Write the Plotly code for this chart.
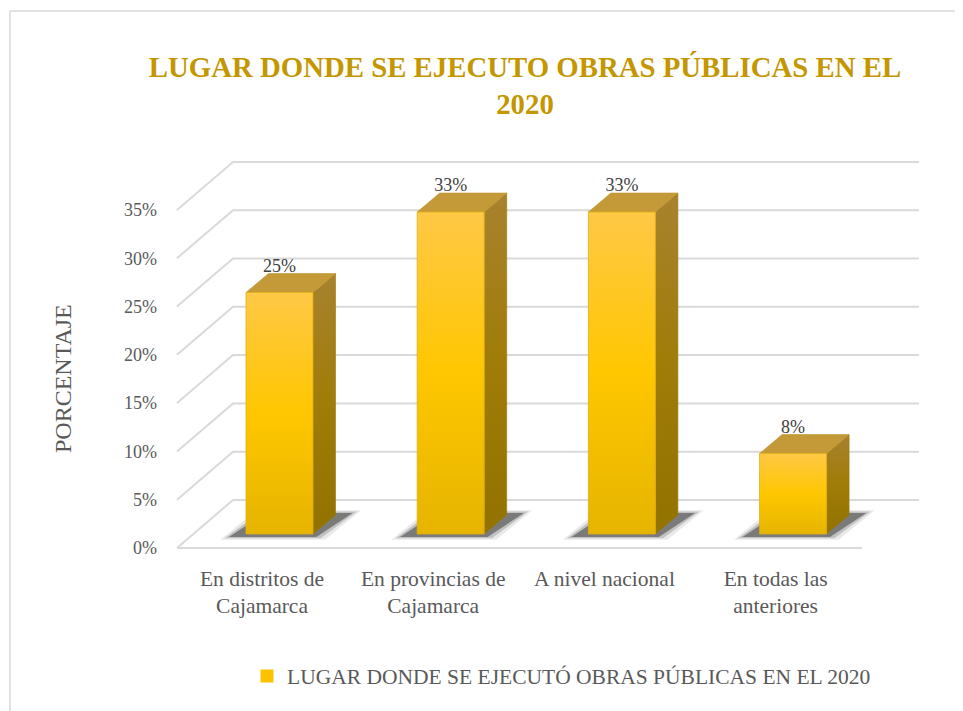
import plotly.graph_objects as go

# ---------------- data ----------------
categories = ["En distritos de<br>Cajamarca", "En provincias de<br>Cajamarca",
              "A nivel nacional", "En todas las<br>anteriores"]
values = [25.0, 33.33, 33.33, 8.33]
tick_values = [0, 5, 10, 15, 20, 25, 30, 35]
tick_labels = ["0%", "5%", "10%", "15%", "20%", "25%", "30%", "35%"]
series_name = "LUGAR DONDE SE EJECUTÓ OBRAS PÚBLICAS EN EL 2020"
title_text = "LUGAR DONDE SE EJECUTO OBRAS PÚBLICAS EN EL<br>2020"

# ---------------- layout geometry (page pixels) ----------------
PAGE_W, PAGE_H, BODY = 963, 711, 8
W, H = PAGE_W - BODY, PAGE_H - BODY
PL, PR, PT, PB = 163, 923, 150, 563          # plot area in page pixels
ML, MR, MT, MB = PL - BODY, PAGE_W - PR, PT - BODY, PAGE_H - PB
XC0, XSTEP = 279.5, 171.2      # page pixel of category 0 centre, pixels per category
Y0, PXPCT = 534.0, 9.66        # page pixel of 0% on bar plane, pixels per percent

def px2x(px):
    return (px - XC0) / XSTEP

def py2y(py):
    return (Y0 - py) / PXPCT

def ppx(px):
    return (px - PL) / (PR - PL)

def ppy(py):
    return (PB - py) / (PB - PT)

FRONT_OFF = (548 - Y0) / PXPCT
BACK_OFF = (Y0 - 500) / PXPCT
XFL, XBL, XBR, XFR = px2x(177), px2x(233), px2x(919), px2x(862)
HALF = 33.5 / XSTEP
DX = 22.5 / XSTEP
DY = 19.0 / PXPCT

FONT = "Liberation Serif"

fig = go.Figure()

# grid (back wall + side wall + floor front edge)
gx, gy = [], []
for t in tick_values:
    gx += [XFL, XBL, XBR, None]
    gy += [t - FRONT_OFF, t + BACK_OFF, t + BACK_OFF, None]
gx += [XFL, XFR, None]
gy += [-FRONT_OFF, -FRONT_OFF, None]
fig.add_trace(go.Scatter(x=gx, y=gy, mode="lines", line=dict(color="#D9D9D9", width=2),
                         hoverinfo="skip", showlegend=False))

# shadows
for i, v in enumerate(values):
    x0, x1 = i - HALF, i + HALF
    for grow, col in [(0.05, "rgba(110,110,110,0.15)"), (0.025, "rgba(80,80,80,0.25)"), (0.0, "rgba(50,50,50,0.5)")]:
        sx = [x0 - 0.10 - grow, x1 + 0.02 + grow, x1 + DX + 0.10 + grow, x0 + DX - 0.02 - grow, x0 - 0.10 - grow]
        sy = [-0.3 - grow * 6, -0.3 - grow * 6, DY + 0.2 + grow * 6, DY + 0.2 + grow * 6, -0.3 - grow * 6]
        fig.add_trace(go.Scatter(x=sx, y=sy, mode="lines", fill="toself", fillcolor=col,
                                 line=dict(width=0, color=col), hoverinfo="skip", showlegend=False))

# bars
for i, v in enumerate(values):
    x0, x1 = i - HALF, i + HALF
    # side
    fig.add_trace(go.Scatter(
        x=[x1, x1 + DX, x1 + DX, x1, x1], y=[0, DY, v + DY, v, 0],
        mode="lines", fill="toself", line=dict(width=0.6, color="#9A7800"),
        fillgradient=dict(type="vertical", colorscale=[[0, "#927200"], [0.5, "#A07C08"], [1, "#A8822E"]]),
        hoverinfo="skip", showlegend=False))
    # top
    fig.add_trace(go.Scatter(
        x=[x0, x1, x1 + DX, x0 + DX, x0], y=[v, v, v + DY, v + DY, v],
        mode="lines", fill="toself", fillcolor="#C49A38", line=dict(width=0.6, color="#C09530"),
        hoverinfo="skip", showlegend=False))
    # front
    fig.add_trace(go.Scatter(
        x=[x0, x1, x1, x0, x0], y=[0, 0, v, v, 0],
        mode="lines", fill="toself", line=dict(width=0.8, color="#E0AE10"),
        fillgradient=dict(type="vertical", colorscale=[[0, "#E6B400"], [0.5, "#FFC700"], [1, "#FFC846"]]),
        hoverinfo="skip", showlegend=False))

# data labels
fig.add_trace(go.Scatter(
    x=list(range(len(values))), y=[v + 2.6 for v in values], mode="text",
    text=[f"{round(v)}%" for v in values], textposition="middle center",
    textfont=dict(family=FONT, size=18, color="#404040"), hoverinfo="skip", showlegend=False))

# legend entry
fig.add_trace(go.Scatter(x=[None], y=[None], mode="markers", name=series_name,
                         marker=dict(symbol="square", size=13, color="#FFC200"), showlegend=True))

fig.update_layout(
    width=W, height=H, autosize=False,
    margin=dict(l=ML, r=MR, t=MT, b=MB, pad=0),
    paper_bgcolor="white", plot_bgcolor="rgba(0,0,0,0)",
    title=dict(text=title_text, x=(525 - BODY) / W, xanchor="center", xref="container",
               y=1 - 69 / H, yanchor="top", yref="container",
               font=dict(family=FONT, size=28.8, color="#C49600", weight="bold")),
    xaxis=dict(range=[px2x(PL), px2x(PR)], showgrid=False, zeroline=False, showline=False,
               tickmode="array", tickvals=[i - 17.5 / XSTEP for i in range(len(categories))],
               ticktext=categories, ticks="", tickfont=dict(family=FONT, size=21.5, color="#595959"),
               fixedrange=True),
    yaxis=dict(range=[py2y(PB), py2y(PT)], showgrid=False, zeroline=False, showline=False,
               tickmode="array", tickvals=[t - FRONT_OFF for t in tick_values], ticktext=tick_labels,
               ticks="", ticklabelstandoff=5, tickfont=dict(family=FONT, size=18, color="#595959"),
               fixedrange=True),
    showlegend=True,
    legend=dict(orientation="h", x=ppx(247), xanchor="left", y=ppy(676), yanchor="middle",
                font=dict(family=FONT, size=21.5, color="#595959"), bgcolor="rgba(0,0,0,0)"),
    annotations=[dict(text="PORCENTAJE", textangle=-90, xref="paper", yref="paper",
                      x=ppx(63), y=ppy(379), xanchor="center", yanchor="middle", showarrow=False,
                      font=dict(family=FONT, size=24, color="#595959"))],
    shapes=[
        dict(type="line", xref="paper", yref="paper", x0=ppx(10), x1=ppx(10), y0=ppy(11), y1=ppy(PAGE_H),
             line=dict(color="#D9D9D9", width=1.5)),
        dict(type="line", xref="paper", yref="paper", x0=ppx(10), x1=ppx(PAGE_W), y0=ppy(11), y1=ppy(11),
             line=dict(color="#D9D9D9", width=1.5)),
    ],
)

fig.write_html("out.html")
